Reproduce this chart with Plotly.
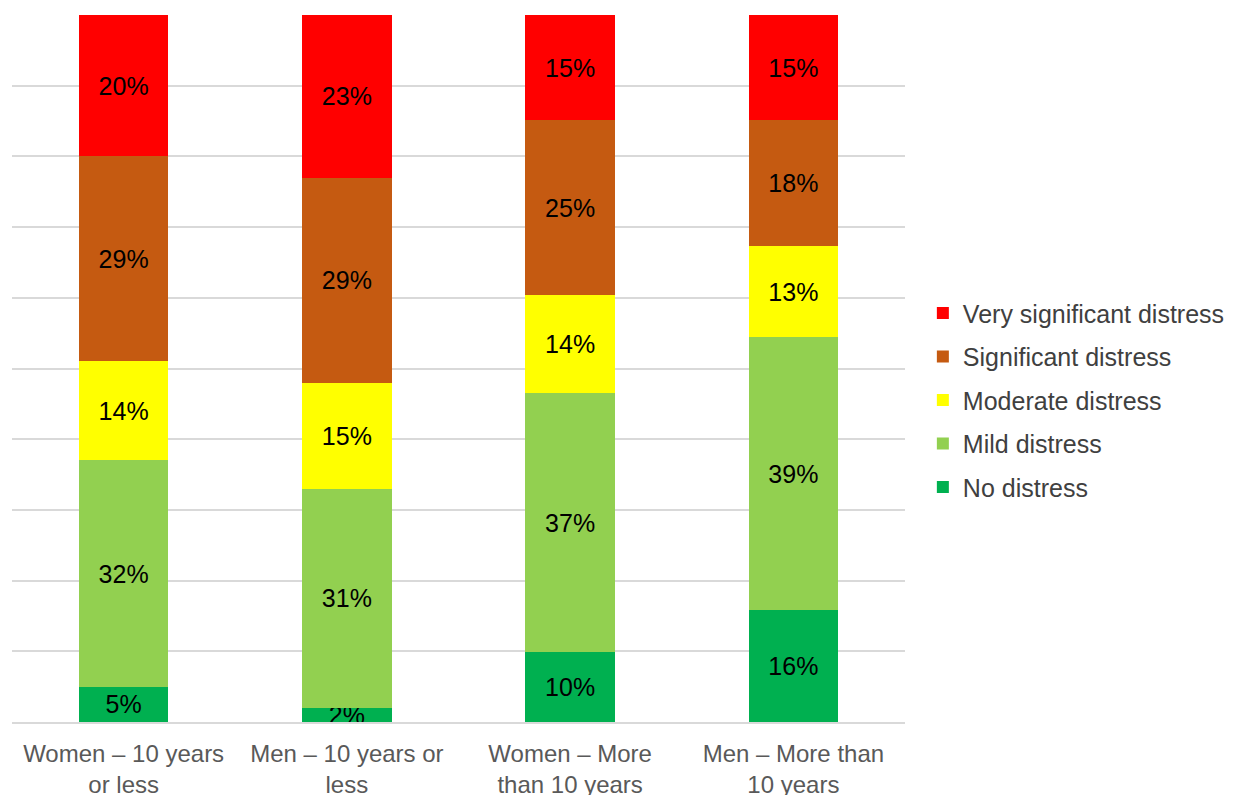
import plotly.graph_objects as go

categories = ["Women – 10 years<br>or less", "Men – 10 years or<br>less",
              "Women – More<br>than 10 years", "Men – More than<br>10 years"]
series_names = ["No distress", "Mild distress", "Moderate distress",
                "Significant distress", "Very significant distress"]
no_distress = [5, 2, 10, 16]
mild_distress = [32, 31, 37, 39]
moderate_distress = [14, 15, 14, 13]
significant_distress = [29, 29, 25, 18]
very_significant_distress = [20, 23, 15, 15]
colors = ["#00B050", "#92D050", "#FFFF00", "#C55A11", "#FF0000"]

values = [no_distress, mild_distress, moderate_distress,
          significant_distress, very_significant_distress]

FONT = "Liberation Sans, Arial, sans-serif"

fig = go.Figure()
n = len(series_names)
for i, (name, vals, col) in enumerate(zip(series_names, values, colors)):
    fig.add_trace(go.Bar(
        x=categories, y=vals, name=name,
        marker=dict(color=col, line=dict(width=0)),
        text=[f"{v}%" for v in vals],
        textposition="inside", insidetextanchor="middle",
        textfont=dict(family=FONT, size=25, color="#000000"),
        legendgroup=name, legendrank=(n - i) * 10,
    ))

fig.update_layout(
    barmode="stack", barnorm="percent", bargap=0.6,
    width=1235, height=795,
    margin=dict(l=4, r=338, t=7, b=81, autoexpand=False),
    paper_bgcolor="white", plot_bgcolor="white",
    font=dict(family=FONT, size=24, color="#595959"),
    uniformtext=dict(minsize=25, mode="show"),
    showlegend=True,
    legend=dict(traceorder="grouped", x=1.02, xanchor="left", y=0.455, yanchor="middle",
                font=dict(size=25, color="#404040"), tracegroupgap=8,
                bgcolor="rgba(0,0,0,0)"),
    xaxis=dict(showgrid=False, showline=True, linecolor="#D9D9D9", linewidth=1.5,
               ticks="", ticklabelstandoff=9,
               tickfont=dict(size=24, color="#595959")),
    yaxis=dict(range=[0, 100], dtick=10, showgrid=True, gridcolor="#D9D9D9", gridwidth=1.5,
               showticklabels=False, zeroline=False, ticks=""),
)

fig.write_html("out.html")
